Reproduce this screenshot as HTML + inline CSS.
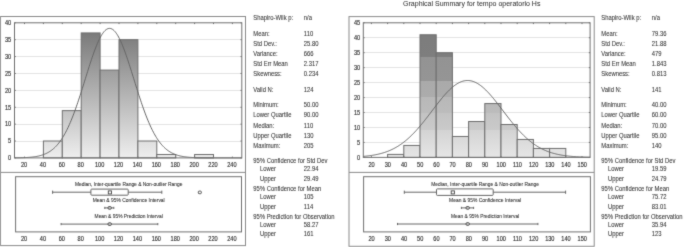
<!DOCTYPE html>
<html><head><meta charset="utf-8"><style>
html,body{margin:0;padding:0;background:#fff;}
body{width:685px;height:247px;overflow:hidden;font-family:"Liberation Sans",sans-serif;}
svg{display:block;will-change:transform;}
text{fill:#2a2a2a;stroke:#2a2a2a;stroke-width:0.22px;font-family:"Liberation Sans",sans-serif;}
text.ax{stroke-width:0.16px;fill:#303030;stroke:#303030;}
text.t{stroke-width:0.04px;fill:#333;stroke:#333;}
text.st{stroke-width:0.08px;fill:#383838;stroke:#383838;}
text.s{stroke-width:0.08px;fill:#333;stroke:#333;}
</style></head><body>
<svg width="685" height="247" viewBox="0 0 685 247">
<defs>
<filter id="bl" x="-5" y="-5" width="700" height="260" filterUnits="userSpaceOnUse" color-interpolation-filters="sRGB"><feConvolveMatrix order="3" kernelMatrix="0.02 0.08 0.02 0.08 0.60 0.08 0.02 0.08 0.02" edgeMode="duplicate"/></filter>
<linearGradient id="gl" gradientUnits="userSpaceOnUse" x1="0" y1="22" x2="0" y2="158">
<stop offset="0" stop-color="#707070"/><stop offset="1" stop-color="#eeeeee"/></linearGradient>
<linearGradient id="gr" gradientUnits="userSpaceOnUse" x1="0" y1="22.5" x2="0" y2="157.5">
<stop offset="0" stop-color="#7c7c7c"/><stop offset="0.2585" stop-color="#7e7e7e"/>
<stop offset="0.2585" stop-color="#939393"/><stop offset="0.4363" stop-color="#959595"/>
<stop offset="0.4363" stop-color="#aaaaaa"/><stop offset="0.554" stop-color="#acacac"/>
<stop offset="0.554" stop-color="#b8b8b8"/><stop offset="0.668" stop-color="#bcbcbc"/>
<stop offset="0.668" stop-color="#c3c3c3"/><stop offset="0.796" stop-color="#cacaca"/>
<stop offset="0.796" stop-color="#d3d3d3"/><stop offset="1" stop-color="#e6e6e6"/>
</linearGradient>
</defs>
<g filter="url(#bl)">
<rect x="0" y="0" width="685" height="247" fill="#fff"/>
<text class="t" x="403.1" y="5.8" font-size="7">Graphical Summary for tempo operatorio Hs</text>
<rect x="0.5" y="16.5" width="245" height="229.1" fill="none" stroke="#8a8a8a" stroke-width="1"/>
<line x1="0.5" y1="172.4" x2="245.5" y2="172.4" stroke="#8a8a8a" stroke-width="1"/>
<line x1="14.5" y1="141.5" x2="241.8" y2="141.5" stroke="#e4e4e4" stroke-width="1"/>
<line x1="14.5" y1="124.5" x2="241.8" y2="124.5" stroke="#e4e4e4" stroke-width="1"/>
<line x1="14.5" y1="107.5" x2="241.8" y2="107.5" stroke="#e4e4e4" stroke-width="1"/>
<line x1="14.5" y1="90.5" x2="241.8" y2="90.5" stroke="#e4e4e4" stroke-width="1"/>
<line x1="14.5" y1="73.5" x2="241.8" y2="73.5" stroke="#e4e4e4" stroke-width="1"/>
<line x1="14.5" y1="56.5" x2="241.8" y2="56.5" stroke="#e4e4e4" stroke-width="1"/>
<line x1="14.5" y1="39.5" x2="241.8" y2="39.5" stroke="#e4e4e4" stroke-width="1"/>
<rect x="43.4" y="141.01" width="18.9" height="16.89" fill="url(#gl)" stroke="#6e6e6e" stroke-width="1"/>
<rect x="62.3" y="110.62" width="18.9" height="47.28" fill="url(#gl)" stroke="#6e6e6e" stroke-width="1"/>
<rect x="81.2" y="32.93" width="18.9" height="124.97" fill="url(#gl)" stroke="#6e6e6e" stroke-width="1"/>
<rect x="100.1" y="70.09" width="18.9" height="87.81" fill="url(#gl)" stroke="#6e6e6e" stroke-width="1"/>
<rect x="119" y="39.69" width="18.9" height="118.21" fill="url(#gl)" stroke="#6e6e6e" stroke-width="1"/>
<rect x="137.9" y="141.01" width="18.9" height="16.89" fill="url(#gl)" stroke="#6e6e6e" stroke-width="1"/>
<rect x="156.8" y="154.52" width="18.9" height="3.38" fill="url(#gl)" stroke="#6e6e6e" stroke-width="1"/>
<rect x="194.6" y="154.52" width="18.9" height="3.38" fill="url(#gl)" stroke="#6e6e6e" stroke-width="1"/>
<polyline points="15.05,157.83 15.81,157.82 16.56,157.81 17.32,157.80 18.07,157.79 18.83,157.77 19.59,157.76 20.34,157.74 21.10,157.72 21.85,157.70 22.61,157.68 23.37,157.65 24.12,157.62 24.88,157.59 25.63,157.55 26.39,157.51 27.15,157.47 27.90,157.42 28.66,157.37 29.41,157.32 30.17,157.25 30.93,157.19 31.68,157.11 32.44,157.03 33.19,156.94 33.95,156.84 34.71,156.74 35.46,156.62 36.22,156.49 36.97,156.36 37.73,156.21 38.49,156.05 39.24,155.87 40.00,155.69 40.75,155.48 41.51,155.26 42.27,155.03 43.02,154.77 43.78,154.50 44.53,154.20 45.29,153.88 46.05,153.54 46.80,153.18 47.56,152.79 48.31,152.37 49.07,151.93 49.83,151.45 50.58,150.95 51.34,150.41 52.09,149.84 52.85,149.23 53.61,148.59 54.36,147.91 55.12,147.18 55.87,146.42 56.63,145.62 57.39,144.77 58.14,143.87 58.90,142.93 59.65,141.95 60.41,140.91 61.17,139.82 61.92,138.68 62.68,137.49 63.43,136.25 64.19,134.95 64.95,133.60 65.70,132.20 66.46,130.74 67.21,129.22 67.97,127.65 68.73,126.02 69.48,124.34 70.24,122.60 70.99,120.81 71.75,118.96 72.51,117.06 73.26,115.11 74.02,113.11 74.77,111.07 75.53,108.97 76.29,106.83 77.04,104.65 77.80,102.43 78.55,100.17 79.31,97.88 80.07,95.56 80.82,93.21 81.58,90.83 82.33,88.44 83.09,86.02 83.85,83.60 84.60,81.17 85.36,78.73 86.11,76.30 86.87,73.87 87.63,71.45 88.38,69.05 89.14,66.67 89.89,64.32 90.65,61.99 91.41,59.71 92.16,57.46 92.92,55.27 93.67,53.12 94.43,51.04 95.19,49.02 95.94,47.06 96.70,45.18 97.45,43.38 98.21,41.66 98.97,40.03 99.72,38.49 100.48,37.04 101.23,35.70 101.99,34.46 102.75,33.33 103.50,32.30 104.26,31.40 105.01,30.60 105.77,29.93 106.53,29.37 107.28,28.94 108.04,28.63 108.79,28.44 109.55,28.38 110.31,28.44 111.06,28.63 111.82,28.94 112.57,29.37 113.33,29.93 114.09,30.60 114.84,31.40 115.60,32.30 116.35,33.33 117.11,34.46 117.87,35.70 118.62,37.04 119.38,38.49 120.13,40.03 120.89,41.66 121.65,43.38 122.40,45.18 123.16,47.06 123.91,49.02 124.67,51.04 125.43,53.12 126.18,55.27 126.94,57.46 127.69,59.71 128.45,61.99 129.21,64.32 129.96,66.67 130.72,69.05 131.47,71.45 132.23,73.87 132.99,76.30 133.74,78.73 134.50,81.17 135.25,83.60 136.01,86.02 136.77,88.44 137.52,90.83 138.28,93.21 139.03,95.56 139.79,97.88 140.55,100.17 141.30,102.43 142.06,104.65 142.81,106.83 143.57,108.97 144.33,111.07 145.08,113.11 145.84,115.11 146.59,117.06 147.35,118.96 148.11,120.81 148.86,122.60 149.62,124.34 150.37,126.02 151.13,127.65 151.89,129.22 152.64,130.74 153.40,132.20 154.15,133.60 154.91,134.95 155.67,136.25 156.42,137.49 157.18,138.68 157.93,139.82 158.69,140.91 159.45,141.95 160.20,142.93 160.96,143.87 161.71,144.77 162.47,145.62 163.23,146.42 163.98,147.18 164.74,147.91 165.49,148.59 166.25,149.23 167.01,149.84 167.76,150.41 168.52,150.95 169.27,151.45 170.03,151.93 170.79,152.37 171.54,152.79 172.30,153.18 173.05,153.54 173.81,153.88 174.57,154.20 175.32,154.50 176.08,154.77 176.83,155.03 177.59,155.26 178.35,155.48 179.10,155.69 179.86,155.87 180.61,156.05 181.37,156.21 182.13,156.36 182.88,156.49 183.64,156.62 184.39,156.74 185.15,156.84 185.91,156.94 186.66,157.03 187.42,157.11 188.17,157.19 188.93,157.25 189.69,157.32 190.44,157.37 191.20,157.42 191.95,157.47 192.71,157.51 193.47,157.55 194.22,157.59 194.98,157.62 195.73,157.65 196.49,157.68 197.25,157.70 198.00,157.72 198.76,157.74 199.51,157.76 200.27,157.77 201.03,157.79 201.78,157.80 202.54,157.81 203.29,157.82 204.05,157.83 204.81,157.84 205.56,157.84 206.32,157.85 207.07,157.86 207.83,157.86 208.59,157.87 209.34,157.87 210.10,157.87 210.85,157.88 211.61,157.88 212.37,157.88 213.12,157.88 213.88,157.89 214.63,157.89 215.39,157.89 216.15,157.89 216.90,157.89 217.66,157.89 218.41,157.89 219.17,157.89 219.93,157.90 220.68,157.90 221.44,157.90 222.19,157.90 222.95,157.90 223.71,157.90 224.46,157.90 225.22,157.90 225.97,157.90 226.73,157.90 227.49,157.90 228.24,157.90 229.00,157.90 229.75,157.90 230.51,157.90 231.27,157.90 232.02,157.90 232.78,157.90 233.53,157.90 234.29,157.90 235.05,157.90 235.80,157.90 236.56,157.90 237.31,157.90 238.07,157.90 238.83,157.90 239.58,157.90 240.34,157.90 241.09,157.90 241.85,157.90" fill="none" stroke="#666" stroke-width="1"/>
<rect x="14.5" y="22.8" width="227.3" height="135.1" fill="none" stroke="#707070" stroke-width="1"/>
<line x1="24.5" y1="22.8" x2="24.5" y2="24.1" stroke="#707070" stroke-width="1"/>
<line x1="24.5" y1="157.9" x2="24.5" y2="156.6" stroke="#707070" stroke-width="1"/>
<line x1="43.4" y1="22.8" x2="43.4" y2="24.1" stroke="#707070" stroke-width="1"/>
<line x1="43.4" y1="157.9" x2="43.4" y2="156.6" stroke="#707070" stroke-width="1"/>
<line x1="62.3" y1="22.8" x2="62.3" y2="24.1" stroke="#707070" stroke-width="1"/>
<line x1="62.3" y1="157.9" x2="62.3" y2="156.6" stroke="#707070" stroke-width="1"/>
<line x1="81.2" y1="22.8" x2="81.2" y2="24.1" stroke="#707070" stroke-width="1"/>
<line x1="81.2" y1="157.9" x2="81.2" y2="156.6" stroke="#707070" stroke-width="1"/>
<line x1="100.1" y1="22.8" x2="100.1" y2="24.1" stroke="#707070" stroke-width="1"/>
<line x1="100.1" y1="157.9" x2="100.1" y2="156.6" stroke="#707070" stroke-width="1"/>
<line x1="119" y1="22.8" x2="119" y2="24.1" stroke="#707070" stroke-width="1"/>
<line x1="119" y1="157.9" x2="119" y2="156.6" stroke="#707070" stroke-width="1"/>
<line x1="137.9" y1="22.8" x2="137.9" y2="24.1" stroke="#707070" stroke-width="1"/>
<line x1="137.9" y1="157.9" x2="137.9" y2="156.6" stroke="#707070" stroke-width="1"/>
<line x1="156.8" y1="22.8" x2="156.8" y2="24.1" stroke="#707070" stroke-width="1"/>
<line x1="156.8" y1="157.9" x2="156.8" y2="156.6" stroke="#707070" stroke-width="1"/>
<line x1="175.7" y1="22.8" x2="175.7" y2="24.1" stroke="#707070" stroke-width="1"/>
<line x1="175.7" y1="157.9" x2="175.7" y2="156.6" stroke="#707070" stroke-width="1"/>
<line x1="194.6" y1="22.8" x2="194.6" y2="24.1" stroke="#707070" stroke-width="1"/>
<line x1="194.6" y1="157.9" x2="194.6" y2="156.6" stroke="#707070" stroke-width="1"/>
<line x1="213.5" y1="22.8" x2="213.5" y2="24.1" stroke="#707070" stroke-width="1"/>
<line x1="213.5" y1="157.9" x2="213.5" y2="156.6" stroke="#707070" stroke-width="1"/>
<line x1="232.4" y1="22.8" x2="232.4" y2="24.1" stroke="#707070" stroke-width="1"/>
<line x1="232.4" y1="157.9" x2="232.4" y2="156.6" stroke="#707070" stroke-width="1"/>
<line x1="14.5" y1="157.9" x2="15.8" y2="157.9" stroke="#707070" stroke-width="1"/>
<line x1="241.8" y1="157.9" x2="240.5" y2="157.9" stroke="#707070" stroke-width="1"/>
<line x1="14.5" y1="141.01" x2="15.8" y2="141.01" stroke="#707070" stroke-width="1"/>
<line x1="241.8" y1="141.01" x2="240.5" y2="141.01" stroke="#707070" stroke-width="1"/>
<line x1="14.5" y1="124.12" x2="15.8" y2="124.12" stroke="#707070" stroke-width="1"/>
<line x1="241.8" y1="124.12" x2="240.5" y2="124.12" stroke="#707070" stroke-width="1"/>
<line x1="14.5" y1="107.24" x2="15.8" y2="107.24" stroke="#707070" stroke-width="1"/>
<line x1="241.8" y1="107.24" x2="240.5" y2="107.24" stroke="#707070" stroke-width="1"/>
<line x1="14.5" y1="90.35" x2="15.8" y2="90.35" stroke="#707070" stroke-width="1"/>
<line x1="241.8" y1="90.35" x2="240.5" y2="90.35" stroke="#707070" stroke-width="1"/>
<line x1="14.5" y1="73.46" x2="15.8" y2="73.46" stroke="#707070" stroke-width="1"/>
<line x1="241.8" y1="73.46" x2="240.5" y2="73.46" stroke="#707070" stroke-width="1"/>
<line x1="14.5" y1="56.58" x2="15.8" y2="56.58" stroke="#707070" stroke-width="1"/>
<line x1="241.8" y1="56.58" x2="240.5" y2="56.58" stroke="#707070" stroke-width="1"/>
<line x1="14.5" y1="39.69" x2="15.8" y2="39.69" stroke="#707070" stroke-width="1"/>
<line x1="241.8" y1="39.69" x2="240.5" y2="39.69" stroke="#707070" stroke-width="1"/>
<line x1="14.5" y1="22.8" x2="15.8" y2="22.8" stroke="#707070" stroke-width="1"/>
<line x1="241.8" y1="22.8" x2="240.5" y2="22.8" stroke="#707070" stroke-width="1"/>
<text transform="translate(11.2 160.2) scale(0.79 1)" class="ax" text-anchor="end" font-size="7.1">0</text>
<text transform="translate(11.2 143.31) scale(0.79 1)" class="ax" text-anchor="end" font-size="7.1">5</text>
<text transform="translate(11.2 126.42) scale(0.79 1)" class="ax" text-anchor="end" font-size="7.1">10</text>
<text transform="translate(11.2 109.54) scale(0.79 1)" class="ax" text-anchor="end" font-size="7.1">15</text>
<text transform="translate(11.2 92.65) scale(0.79 1)" class="ax" text-anchor="end" font-size="7.1">20</text>
<text transform="translate(11.2 75.76) scale(0.79 1)" class="ax" text-anchor="end" font-size="7.1">25</text>
<text transform="translate(11.2 58.88) scale(0.79 1)" class="ax" text-anchor="end" font-size="7.1">30</text>
<text transform="translate(11.2 41.99) scale(0.79 1)" class="ax" text-anchor="end" font-size="7.1">35</text>
<text transform="translate(11.2 25.1) scale(0.79 1)" class="ax" text-anchor="end" font-size="7.1">40</text>
<text transform="translate(24 167) scale(0.79 1)" class="ax" text-anchor="middle" font-size="7.1">20</text>
<text transform="translate(24 240.5) scale(0.79 1)" class="ax" text-anchor="middle" font-size="7.1">20</text>
<text transform="translate(42.9 167) scale(0.79 1)" class="ax" text-anchor="middle" font-size="7.1">40</text>
<text transform="translate(42.9 240.5) scale(0.79 1)" class="ax" text-anchor="middle" font-size="7.1">40</text>
<text transform="translate(61.8 167) scale(0.79 1)" class="ax" text-anchor="middle" font-size="7.1">60</text>
<text transform="translate(61.8 240.5) scale(0.79 1)" class="ax" text-anchor="middle" font-size="7.1">60</text>
<text transform="translate(80.7 167) scale(0.79 1)" class="ax" text-anchor="middle" font-size="7.1">80</text>
<text transform="translate(80.7 240.5) scale(0.79 1)" class="ax" text-anchor="middle" font-size="7.1">80</text>
<text transform="translate(99.6 167) scale(0.79 1)" class="ax" text-anchor="middle" font-size="7.1">100</text>
<text transform="translate(99.6 240.5) scale(0.79 1)" class="ax" text-anchor="middle" font-size="7.1">100</text>
<text transform="translate(118.5 167) scale(0.79 1)" class="ax" text-anchor="middle" font-size="7.1">120</text>
<text transform="translate(118.5 240.5) scale(0.79 1)" class="ax" text-anchor="middle" font-size="7.1">120</text>
<text transform="translate(137.4 167) scale(0.79 1)" class="ax" text-anchor="middle" font-size="7.1">140</text>
<text transform="translate(137.4 240.5) scale(0.79 1)" class="ax" text-anchor="middle" font-size="7.1">140</text>
<text transform="translate(156.3 167) scale(0.79 1)" class="ax" text-anchor="middle" font-size="7.1">160</text>
<text transform="translate(156.3 240.5) scale(0.79 1)" class="ax" text-anchor="middle" font-size="7.1">160</text>
<text transform="translate(175.2 167) scale(0.79 1)" class="ax" text-anchor="middle" font-size="7.1">180</text>
<text transform="translate(175.2 240.5) scale(0.79 1)" class="ax" text-anchor="middle" font-size="7.1">180</text>
<text transform="translate(194.1 167) scale(0.79 1)" class="ax" text-anchor="middle" font-size="7.1">200</text>
<text transform="translate(194.1 240.5) scale(0.79 1)" class="ax" text-anchor="middle" font-size="7.1">200</text>
<text transform="translate(213 167) scale(0.79 1)" class="ax" text-anchor="middle" font-size="7.1">220</text>
<text transform="translate(213 240.5) scale(0.79 1)" class="ax" text-anchor="middle" font-size="7.1">220</text>
<text transform="translate(231.9 167) scale(0.79 1)" class="ax" text-anchor="middle" font-size="7.1">240</text>
<text transform="translate(231.9 240.5) scale(0.79 1)" class="ax" text-anchor="middle" font-size="7.1">240</text>
<rect x="15.6" y="176.7" width="225.9" height="55.2" fill="none" stroke="#707070" stroke-width="1"/>
<text class="s" x="74.9" y="186" textLength="107.6" lengthAdjust="spacingAndGlyphs" font-size="5">Median, Inter-quartile Range &amp; Non-outlier Range</text>
<text class="s" x="92.7" y="202" textLength="72.0" lengthAdjust="spacingAndGlyphs" font-size="5">Mean &amp; 95% Confidence Interval</text>
<text class="s" x="94.6" y="217.8" textLength="68.2" lengthAdjust="spacingAndGlyphs" font-size="5">Mean &amp; 95% Prediction Interval</text>
<line x1="52.6" y1="192.2" x2="161.8" y2="192.2" stroke="#666" stroke-width="1"/>
<line x1="52.6" y1="190.6" x2="52.6" y2="193.79999999999998" stroke="#666" stroke-width="1"/>
<line x1="161.8" y1="190.6" x2="161.8" y2="193.79999999999998" stroke="#666" stroke-width="1"/>
<rect x="90.9" y="189.1" width="37.3" height="6.1" rx="0.8" fill="#fff" stroke="#666" stroke-width="1"/>
<rect x="108.3" y="190.9" width="3.2" height="3" fill="#fff" stroke="#444" stroke-width="0.9"/>
<rect x="198.3" y="191.1" width="3" height="2.6" rx="0.8" fill="#fff" stroke="#444" stroke-width="0.9"/>
<line x1="104.8" y1="207.9" x2="113.8" y2="207.9" stroke="#666" stroke-width="1"/>
<line x1="104.8" y1="206.8" x2="104.8" y2="209.0" stroke="#666" stroke-width="1"/>
<line x1="113.8" y1="206.8" x2="113.8" y2="209.0" stroke="#666" stroke-width="1"/>
<rect x="108" y="206.6" width="3.4" height="2.6" rx="1" fill="#ccc" stroke="#444" stroke-width="0.9"/>
<line x1="61.1" y1="224.1" x2="157.8" y2="224.1" stroke="#666" stroke-width="1"/>
<line x1="61.1" y1="223.0" x2="61.1" y2="225.2" stroke="#666" stroke-width="1"/>
<line x1="157.8" y1="223.0" x2="157.8" y2="225.2" stroke="#666" stroke-width="1"/>
<rect x="108" y="222.8" width="3.4" height="2.6" rx="1" fill="#ccc" stroke="#444" stroke-width="0.9"/>
<text class="st" transform="translate(253.3 20.1) scale(0.84 1)" font-size="7">Shapiro-Wilk p:</text>
<text class="st" transform="translate(303.8 20.1) scale(0.84 1)" font-size="7">n/a</text>
<text class="st" transform="translate(253.3 35.8) scale(0.84 1)" font-size="7">Mean:</text>
<text class="st" transform="translate(303.8 35.8) scale(0.84 1)" font-size="7">110</text>
<text class="st" transform="translate(253.3 45.9) scale(0.84 1)" font-size="7">Std Dev.:</text>
<text class="st" transform="translate(303.8 45.9) scale(0.84 1)" font-size="7">25.80</text>
<text class="st" transform="translate(253.3 55.9) scale(0.84 1)" font-size="7">Variance:</text>
<text class="st" transform="translate(303.8 55.9) scale(0.84 1)" font-size="7">666</text>
<text class="st" transform="translate(253.3 66.1) scale(0.84 1)" font-size="7">Std Err Mean</text>
<text class="st" transform="translate(303.8 66.1) scale(0.84 1)" font-size="7">2.317</text>
<text class="st" transform="translate(253.3 76.2) scale(0.84 1)" font-size="7">Skewness:</text>
<text class="st" transform="translate(303.8 76.2) scale(0.84 1)" font-size="7">0.234</text>
<text class="st" transform="translate(253.3 91.6) scale(0.84 1)" font-size="7">Valid N:</text>
<text class="st" transform="translate(303.8 91.6) scale(0.84 1)" font-size="7">124</text>
<text class="st" transform="translate(253.3 106.8) scale(0.84 1)" font-size="7">Minimum:</text>
<text class="st" transform="translate(303.8 106.8) scale(0.84 1)" font-size="7">50.00</text>
<text class="st" transform="translate(253.3 117.2) scale(0.84 1)" font-size="7">Lower Quartile</text>
<text class="st" transform="translate(303.8 117.2) scale(0.84 1)" font-size="7">90.00</text>
<text class="st" transform="translate(253.3 127.6) scale(0.84 1)" font-size="7">Median:</text>
<text class="st" transform="translate(303.8 127.6) scale(0.84 1)" font-size="7">110</text>
<text class="st" transform="translate(253.3 137.7) scale(0.84 1)" font-size="7">Upper Quartile</text>
<text class="st" transform="translate(303.8 137.7) scale(0.84 1)" font-size="7">130</text>
<text class="st" transform="translate(253.3 147.6) scale(0.84 1)" font-size="7">Maximum:</text>
<text class="st" transform="translate(303.8 147.6) scale(0.84 1)" font-size="7">205</text>
<text class="st" transform="translate(253.3 162.8) scale(0.84 1)" font-size="7">95% Confidence for Std Dev</text>
<text class="st" transform="translate(259.9 170.9) scale(0.84 1)" font-size="7">Lower</text>
<text class="st" transform="translate(303.8 170.9) scale(0.84 1)" font-size="7">22.94</text>
<text class="st" transform="translate(259.9 181) scale(0.84 1)" font-size="7">Upper</text>
<text class="st" transform="translate(303.8 181) scale(0.84 1)" font-size="7">29.49</text>
<text class="st" transform="translate(253.3 190.9) scale(0.84 1)" font-size="7">95% Confidence for Mean</text>
<text class="st" transform="translate(259.9 199.2) scale(0.84 1)" font-size="7">Lower</text>
<text class="st" transform="translate(303.8 199.2) scale(0.84 1)" font-size="7">105</text>
<text class="st" transform="translate(259.9 209.3) scale(0.84 1)" font-size="7">Upper</text>
<text class="st" transform="translate(303.8 209.3) scale(0.84 1)" font-size="7">114</text>
<text class="st" transform="translate(253.3 218.7) scale(0.84 1)" font-size="7">95% Prediction for Observation</text>
<text class="st" transform="translate(259.9 227) scale(0.84 1)" font-size="7">Lower</text>
<text class="st" transform="translate(303.8 227) scale(0.84 1)" font-size="7">58.27</text>
<text class="st" transform="translate(259.9 236.1) scale(0.84 1)" font-size="7">Upper</text>
<text class="st" transform="translate(303.8 236.1) scale(0.84 1)" font-size="7">161</text>
<rect x="349.0" y="16.6" width="245.2" height="229.7" fill="none" stroke="#8a8a8a" stroke-width="1"/>
<line x1="349.0" y1="172.4" x2="594.2" y2="172.4" stroke="#8a8a8a" stroke-width="1"/>
<line x1="363.3" y1="142.5" x2="590.1" y2="142.5" stroke="#e4e4e4" stroke-width="1"/>
<line x1="363.3" y1="127.5" x2="590.1" y2="127.5" stroke="#e4e4e4" stroke-width="1"/>
<line x1="363.3" y1="112.5" x2="590.1" y2="112.5" stroke="#e4e4e4" stroke-width="1"/>
<line x1="363.3" y1="97.5" x2="590.1" y2="97.5" stroke="#e4e4e4" stroke-width="1"/>
<line x1="363.3" y1="82.5" x2="590.1" y2="82.5" stroke="#e4e4e4" stroke-width="1"/>
<line x1="363.3" y1="67.5" x2="590.1" y2="67.5" stroke="#e4e4e4" stroke-width="1"/>
<line x1="363.3" y1="52.5" x2="590.1" y2="52.5" stroke="#e4e4e4" stroke-width="1"/>
<line x1="363.3" y1="37.5" x2="590.1" y2="37.5" stroke="#e4e4e4" stroke-width="1"/>
<rect x="387.6" y="154.41" width="16.2" height="2.99" fill="url(#gr)" stroke="#6e6e6e" stroke-width="1"/>
<rect x="403.8" y="145.44" width="16.2" height="11.96" fill="url(#gr)" stroke="#6e6e6e" stroke-width="1"/>
<rect x="420" y="34.76" width="16.2" height="122.64" fill="url(#gr)" stroke="#6e6e6e" stroke-width="1"/>
<rect x="436.2" y="52.71" width="16.2" height="104.69" fill="url(#gr)" stroke="#6e6e6e" stroke-width="1"/>
<rect x="452.4" y="136.46" width="16.2" height="20.94" fill="url(#gr)" stroke="#6e6e6e" stroke-width="1"/>
<rect x="468.6" y="121.51" width="16.2" height="35.89" fill="url(#gr)" stroke="#6e6e6e" stroke-width="1"/>
<rect x="484.8" y="103.56" width="16.2" height="53.84" fill="url(#gr)" stroke="#6e6e6e" stroke-width="1"/>
<rect x="501" y="124.5" width="16.2" height="32.9" fill="url(#gr)" stroke="#6e6e6e" stroke-width="1"/>
<rect x="517.2" y="139.45" width="16.2" height="17.95" fill="url(#gr)" stroke="#6e6e6e" stroke-width="1"/>
<rect x="533.4" y="148.43" width="16.2" height="8.97" fill="url(#gr)" stroke="#6e6e6e" stroke-width="1"/>
<rect x="549.6" y="148.43" width="16.2" height="8.97" fill="url(#gr)" stroke="#6e6e6e" stroke-width="1"/>
<polyline points="363.30,156.38 364.06,156.32 364.81,156.25 365.57,156.18 366.32,156.10 367.08,156.02 367.84,155.93 368.59,155.84 369.35,155.75 370.10,155.64 370.86,155.54 371.62,155.43 372.37,155.31 373.13,155.19 373.88,155.06 374.64,154.93 375.40,154.78 376.15,154.63 376.91,154.48 377.66,154.32 378.42,154.15 379.18,153.97 379.93,153.78 380.69,153.59 381.44,153.38 382.20,153.17 382.96,152.95 383.71,152.71 384.47,152.47 385.22,152.22 385.98,151.96 386.74,151.69 387.49,151.40 388.25,151.11 389.00,150.80 389.76,150.49 390.52,150.16 391.27,149.81 392.03,149.46 392.78,149.09 393.54,148.71 394.30,148.32 395.05,147.91 395.81,147.49 396.56,147.06 397.32,146.61 398.08,146.14 398.83,145.67 399.59,145.17 400.34,144.67 401.10,144.14 401.86,143.61 402.61,143.05 403.37,142.48 404.12,141.90 404.88,141.30 405.64,140.69 406.39,140.05 407.15,139.41 407.90,138.75 408.66,138.07 409.42,137.38 410.17,136.67 410.93,135.94 411.68,135.21 412.44,134.45 413.20,133.68 413.95,132.90 414.71,132.10 415.46,131.29 416.22,130.47 416.98,129.63 417.73,128.78 418.49,127.91 419.24,127.03 420.00,126.15 420.76,125.24 421.51,124.33 422.27,123.41 423.02,122.48 423.78,121.54 424.54,120.59 425.29,119.64 426.05,118.67 426.80,117.70 427.56,116.72 428.32,115.74 429.07,114.76 429.83,113.77 430.58,112.78 431.34,111.78 432.10,110.79 432.85,109.79 433.61,108.80 434.36,107.81 435.12,106.82 435.88,105.83 436.63,104.85 437.39,103.88 438.14,102.91 438.90,101.95 439.66,101.00 440.41,100.05 441.17,99.12 441.92,98.20 442.68,97.30 443.44,96.40 444.19,95.53 444.95,94.66 445.70,93.82 446.46,92.99 447.22,92.18 447.97,91.39 448.73,90.63 449.48,89.88 450.24,89.16 451.00,88.46 451.75,87.78 452.51,87.13 453.26,86.51 454.02,85.92 454.78,85.35 455.53,84.81 456.29,84.30 457.04,83.81 457.80,83.36 458.56,82.95 459.31,82.56 460.07,82.20 460.82,81.88 461.58,81.59 462.34,81.33 463.09,81.11 463.85,80.92 464.60,80.77 465.36,80.65 466.12,80.57 466.87,80.52 467.63,80.50 468.38,80.52 469.14,80.58 469.90,80.67 470.65,80.79 471.41,80.95 472.16,81.15 472.92,81.38 473.68,81.64 474.43,81.93 475.19,82.26 475.94,82.62 476.70,83.01 477.46,83.44 478.21,83.90 478.97,84.38 479.72,84.90 480.48,85.44 481.24,86.02 481.99,86.62 482.75,87.24 483.50,87.90 484.26,88.58 485.02,89.28 485.77,90.01 486.53,90.76 487.28,91.53 488.04,92.32 488.80,93.13 489.55,93.96 490.31,94.81 491.06,95.68 491.82,96.56 492.58,97.45 493.33,98.36 494.09,99.28 494.84,100.21 495.60,101.16 496.36,102.11 497.11,103.07 497.87,104.04 498.62,105.02 499.38,106.00 500.14,106.99 500.89,107.98 501.65,108.97 502.40,109.96 503.16,110.96 503.92,111.95 504.67,112.95 505.43,113.94 506.18,114.93 506.94,115.91 507.70,116.89 508.45,117.87 509.21,118.84 509.96,119.80 510.72,120.76 511.48,121.70 512.23,122.64 512.99,123.57 513.74,124.49 514.50,125.40 515.26,126.30 516.01,127.18 516.77,128.06 517.52,128.92 518.28,129.77 519.04,130.61 519.79,131.43 520.55,132.24 521.30,133.04 522.06,133.82 522.82,134.58 523.57,135.33 524.33,136.07 525.08,136.79 525.84,137.50 526.60,138.19 527.35,138.86 528.11,139.52 528.86,140.16 529.62,140.79 530.38,141.40 531.13,142.00 531.89,142.58 532.64,143.15 533.40,143.70 534.16,144.23 534.91,144.75 535.67,145.26 536.42,145.75 537.18,146.22 537.94,146.69 538.69,147.13 539.45,147.56 540.20,147.98 540.96,148.39 541.72,148.78 542.47,149.16 543.23,149.52 543.98,149.87 544.74,150.21 545.50,150.54 546.25,150.86 547.01,151.16 547.76,151.45 548.52,151.74 549.28,152.01 550.03,152.27 550.79,152.52 551.54,152.76 552.30,152.99 553.06,153.21 553.81,153.42 554.57,153.62 555.32,153.81 556.08,154.00 556.84,154.18 557.59,154.34 558.35,154.51 559.10,154.66 559.86,154.81 560.62,154.95 561.37,155.08 562.13,155.21 562.88,155.33 563.64,155.45 564.40,155.56 565.15,155.66 565.91,155.76 566.66,155.86 567.42,155.95 568.18,156.03 568.93,156.11 569.69,156.19 570.44,156.26 571.20,156.33 571.96,156.39 572.71,156.46 573.47,156.51 574.22,156.57 574.98,156.62 575.74,156.67 576.49,156.72 577.25,156.76 578.00,156.80 578.76,156.84 579.52,156.88 580.27,156.91 581.03,156.94 581.78,156.97 582.54,157.00 583.30,157.03 584.05,157.05 584.81,157.08 585.56,157.10 586.32,157.12 587.08,157.14 587.83,157.16 588.59,157.17 589.34,157.19 590.10,157.20" fill="none" stroke="#666" stroke-width="1"/>
<rect x="363.3" y="22.8" width="226.8" height="134.6" fill="none" stroke="#707070" stroke-width="1"/>
<line x1="371.4" y1="22.8" x2="371.4" y2="24.1" stroke="#707070" stroke-width="1"/>
<line x1="371.4" y1="157.4" x2="371.4" y2="156.1" stroke="#707070" stroke-width="1"/>
<line x1="387.6" y1="22.8" x2="387.6" y2="24.1" stroke="#707070" stroke-width="1"/>
<line x1="387.6" y1="157.4" x2="387.6" y2="156.1" stroke="#707070" stroke-width="1"/>
<line x1="403.8" y1="22.8" x2="403.8" y2="24.1" stroke="#707070" stroke-width="1"/>
<line x1="403.8" y1="157.4" x2="403.8" y2="156.1" stroke="#707070" stroke-width="1"/>
<line x1="420" y1="22.8" x2="420" y2="24.1" stroke="#707070" stroke-width="1"/>
<line x1="420" y1="157.4" x2="420" y2="156.1" stroke="#707070" stroke-width="1"/>
<line x1="436.2" y1="22.8" x2="436.2" y2="24.1" stroke="#707070" stroke-width="1"/>
<line x1="436.2" y1="157.4" x2="436.2" y2="156.1" stroke="#707070" stroke-width="1"/>
<line x1="452.4" y1="22.8" x2="452.4" y2="24.1" stroke="#707070" stroke-width="1"/>
<line x1="452.4" y1="157.4" x2="452.4" y2="156.1" stroke="#707070" stroke-width="1"/>
<line x1="468.6" y1="22.8" x2="468.6" y2="24.1" stroke="#707070" stroke-width="1"/>
<line x1="468.6" y1="157.4" x2="468.6" y2="156.1" stroke="#707070" stroke-width="1"/>
<line x1="484.8" y1="22.8" x2="484.8" y2="24.1" stroke="#707070" stroke-width="1"/>
<line x1="484.8" y1="157.4" x2="484.8" y2="156.1" stroke="#707070" stroke-width="1"/>
<line x1="501" y1="22.8" x2="501" y2="24.1" stroke="#707070" stroke-width="1"/>
<line x1="501" y1="157.4" x2="501" y2="156.1" stroke="#707070" stroke-width="1"/>
<line x1="517.2" y1="22.8" x2="517.2" y2="24.1" stroke="#707070" stroke-width="1"/>
<line x1="517.2" y1="157.4" x2="517.2" y2="156.1" stroke="#707070" stroke-width="1"/>
<line x1="533.4" y1="22.8" x2="533.4" y2="24.1" stroke="#707070" stroke-width="1"/>
<line x1="533.4" y1="157.4" x2="533.4" y2="156.1" stroke="#707070" stroke-width="1"/>
<line x1="549.6" y1="22.8" x2="549.6" y2="24.1" stroke="#707070" stroke-width="1"/>
<line x1="549.6" y1="157.4" x2="549.6" y2="156.1" stroke="#707070" stroke-width="1"/>
<line x1="565.8" y1="22.8" x2="565.8" y2="24.1" stroke="#707070" stroke-width="1"/>
<line x1="565.8" y1="157.4" x2="565.8" y2="156.1" stroke="#707070" stroke-width="1"/>
<line x1="582" y1="22.8" x2="582" y2="24.1" stroke="#707070" stroke-width="1"/>
<line x1="582" y1="157.4" x2="582" y2="156.1" stroke="#707070" stroke-width="1"/>
<line x1="363.3" y1="157.4" x2="364.6" y2="157.4" stroke="#707070" stroke-width="1"/>
<line x1="590.1" y1="157.4" x2="588.8000000000001" y2="157.4" stroke="#707070" stroke-width="1"/>
<line x1="363.3" y1="142.44" x2="364.6" y2="142.44" stroke="#707070" stroke-width="1"/>
<line x1="590.1" y1="142.44" x2="588.8000000000001" y2="142.44" stroke="#707070" stroke-width="1"/>
<line x1="363.3" y1="127.49" x2="364.6" y2="127.49" stroke="#707070" stroke-width="1"/>
<line x1="590.1" y1="127.49" x2="588.8000000000001" y2="127.49" stroke="#707070" stroke-width="1"/>
<line x1="363.3" y1="112.53" x2="364.6" y2="112.53" stroke="#707070" stroke-width="1"/>
<line x1="590.1" y1="112.53" x2="588.8000000000001" y2="112.53" stroke="#707070" stroke-width="1"/>
<line x1="363.3" y1="97.58" x2="364.6" y2="97.58" stroke="#707070" stroke-width="1"/>
<line x1="590.1" y1="97.58" x2="588.8000000000001" y2="97.58" stroke="#707070" stroke-width="1"/>
<line x1="363.3" y1="82.62" x2="364.6" y2="82.62" stroke="#707070" stroke-width="1"/>
<line x1="590.1" y1="82.62" x2="588.8000000000001" y2="82.62" stroke="#707070" stroke-width="1"/>
<line x1="363.3" y1="67.67" x2="364.6" y2="67.67" stroke="#707070" stroke-width="1"/>
<line x1="590.1" y1="67.67" x2="588.8000000000001" y2="67.67" stroke="#707070" stroke-width="1"/>
<line x1="363.3" y1="52.71" x2="364.6" y2="52.71" stroke="#707070" stroke-width="1"/>
<line x1="590.1" y1="52.71" x2="588.8000000000001" y2="52.71" stroke="#707070" stroke-width="1"/>
<line x1="363.3" y1="37.76" x2="364.6" y2="37.76" stroke="#707070" stroke-width="1"/>
<line x1="590.1" y1="37.76" x2="588.8000000000001" y2="37.76" stroke="#707070" stroke-width="1"/>
<line x1="363.3" y1="22.8" x2="364.6" y2="22.8" stroke="#707070" stroke-width="1"/>
<line x1="590.1" y1="22.8" x2="588.8000000000001" y2="22.8" stroke="#707070" stroke-width="1"/>
<text transform="translate(360.1 159.7) scale(0.79 1)" class="ax" text-anchor="end" font-size="7.1">0</text>
<text transform="translate(360.1 144.74) scale(0.79 1)" class="ax" text-anchor="end" font-size="7.1">5</text>
<text transform="translate(360.1 129.79) scale(0.79 1)" class="ax" text-anchor="end" font-size="7.1">10</text>
<text transform="translate(360.1 114.83) scale(0.79 1)" class="ax" text-anchor="end" font-size="7.1">15</text>
<text transform="translate(360.1 99.88) scale(0.79 1)" class="ax" text-anchor="end" font-size="7.1">20</text>
<text transform="translate(360.1 84.92) scale(0.79 1)" class="ax" text-anchor="end" font-size="7.1">25</text>
<text transform="translate(360.1 69.97) scale(0.79 1)" class="ax" text-anchor="end" font-size="7.1">30</text>
<text transform="translate(360.1 55.01) scale(0.79 1)" class="ax" text-anchor="end" font-size="7.1">35</text>
<text transform="translate(360.1 40.06) scale(0.79 1)" class="ax" text-anchor="end" font-size="7.1">40</text>
<text transform="translate(360.1 25.1) scale(0.79 1)" class="ax" text-anchor="end" font-size="7.1">45</text>
<text transform="translate(371.6 167) scale(0.79 1)" class="ax" text-anchor="middle" font-size="7.1">20</text>
<text transform="translate(371.6 240.5) scale(0.79 1)" class="ax" text-anchor="middle" font-size="7.1">20</text>
<text transform="translate(387.8 167) scale(0.79 1)" class="ax" text-anchor="middle" font-size="7.1">30</text>
<text transform="translate(387.8 240.5) scale(0.79 1)" class="ax" text-anchor="middle" font-size="7.1">30</text>
<text transform="translate(404 167) scale(0.79 1)" class="ax" text-anchor="middle" font-size="7.1">40</text>
<text transform="translate(404 240.5) scale(0.79 1)" class="ax" text-anchor="middle" font-size="7.1">40</text>
<text transform="translate(420.2 167) scale(0.79 1)" class="ax" text-anchor="middle" font-size="7.1">50</text>
<text transform="translate(420.2 240.5) scale(0.79 1)" class="ax" text-anchor="middle" font-size="7.1">50</text>
<text transform="translate(436.4 167) scale(0.79 1)" class="ax" text-anchor="middle" font-size="7.1">60</text>
<text transform="translate(436.4 240.5) scale(0.79 1)" class="ax" text-anchor="middle" font-size="7.1">60</text>
<text transform="translate(452.6 167) scale(0.79 1)" class="ax" text-anchor="middle" font-size="7.1">70</text>
<text transform="translate(452.6 240.5) scale(0.79 1)" class="ax" text-anchor="middle" font-size="7.1">70</text>
<text transform="translate(468.8 167) scale(0.79 1)" class="ax" text-anchor="middle" font-size="7.1">80</text>
<text transform="translate(468.8 240.5) scale(0.79 1)" class="ax" text-anchor="middle" font-size="7.1">80</text>
<text transform="translate(485 167) scale(0.79 1)" class="ax" text-anchor="middle" font-size="7.1">90</text>
<text transform="translate(485 240.5) scale(0.79 1)" class="ax" text-anchor="middle" font-size="7.1">90</text>
<text transform="translate(501.2 167) scale(0.79 1)" class="ax" text-anchor="middle" font-size="7.1">100</text>
<text transform="translate(501.2 240.5) scale(0.79 1)" class="ax" text-anchor="middle" font-size="7.1">100</text>
<text transform="translate(517.4 167) scale(0.79 1)" class="ax" text-anchor="middle" font-size="7.1">110</text>
<text transform="translate(517.4 240.5) scale(0.79 1)" class="ax" text-anchor="middle" font-size="7.1">110</text>
<text transform="translate(533.6 167) scale(0.79 1)" class="ax" text-anchor="middle" font-size="7.1">120</text>
<text transform="translate(533.6 240.5) scale(0.79 1)" class="ax" text-anchor="middle" font-size="7.1">120</text>
<text transform="translate(549.8 167) scale(0.79 1)" class="ax" text-anchor="middle" font-size="7.1">130</text>
<text transform="translate(549.8 240.5) scale(0.79 1)" class="ax" text-anchor="middle" font-size="7.1">130</text>
<text transform="translate(566 167) scale(0.79 1)" class="ax" text-anchor="middle" font-size="7.1">140</text>
<text transform="translate(566 240.5) scale(0.79 1)" class="ax" text-anchor="middle" font-size="7.1">140</text>
<text transform="translate(582.2 167) scale(0.79 1)" class="ax" text-anchor="middle" font-size="7.1">150</text>
<text transform="translate(582.2 240.5) scale(0.79 1)" class="ax" text-anchor="middle" font-size="7.1">150</text>
<rect x="363.6" y="176.7" width="226.8" height="55.2" fill="none" stroke="#707070" stroke-width="1"/>
<text class="s" x="431.3" y="186" textLength="107.6" lengthAdjust="spacingAndGlyphs" font-size="5">Median, Inter-quartile Range &amp; Non-outlier Range</text>
<text class="s" x="449.1" y="202" textLength="72.0" lengthAdjust="spacingAndGlyphs" font-size="5">Mean &amp; 95% Confidence Interval</text>
<text class="s" x="451" y="217.8" textLength="68.2" lengthAdjust="spacingAndGlyphs" font-size="5">Mean &amp; 95% Prediction Interval</text>
<line x1="404.3" y1="192.2" x2="565.6" y2="192.2" stroke="#666" stroke-width="1"/>
<line x1="404.3" y1="190.6" x2="404.3" y2="193.79999999999998" stroke="#666" stroke-width="1"/>
<line x1="565.6" y1="190.6" x2="565.6" y2="193.79999999999998" stroke="#666" stroke-width="1"/>
<rect x="436.5" y="188.9" width="56.7" height="6.5" rx="0.8" fill="#fff" stroke="#666" stroke-width="1"/>
<rect x="451.2" y="190.9" width="3.2" height="3" fill="#fff" stroke="#444" stroke-width="0.9"/>
<line x1="461.4" y1="207.9" x2="473.6" y2="207.9" stroke="#666" stroke-width="1"/>
<line x1="461.4" y1="206.8" x2="461.4" y2="209.0" stroke="#666" stroke-width="1"/>
<line x1="473.6" y1="206.8" x2="473.6" y2="209.0" stroke="#666" stroke-width="1"/>
<rect x="466" y="206.6" width="3.4" height="2.6" rx="1" fill="#ccc" stroke="#444" stroke-width="0.9"/>
<line x1="397.5" y1="224.0" x2="537.9" y2="224.0" stroke="#666" stroke-width="1"/>
<line x1="397.5" y1="222.9" x2="397.5" y2="225.1" stroke="#666" stroke-width="1"/>
<line x1="537.9" y1="222.9" x2="537.9" y2="225.1" stroke="#666" stroke-width="1"/>
<rect x="466" y="222.7" width="3.4" height="2.6" rx="1" fill="#ccc" stroke="#444" stroke-width="0.9"/>
<text class="st" transform="translate(601.3 20.1) scale(0.84 1)" font-size="7">Shapiro-Wilk p:</text>
<text class="st" transform="translate(651.8 20.1) scale(0.84 1)" font-size="7">n/a</text>
<text class="st" transform="translate(601.3 35.8) scale(0.84 1)" font-size="7">Mean:</text>
<text class="st" transform="translate(651.8 35.8) scale(0.84 1)" font-size="7">79.36</text>
<text class="st" transform="translate(601.3 45.9) scale(0.84 1)" font-size="7">Std Dev.:</text>
<text class="st" transform="translate(651.8 45.9) scale(0.84 1)" font-size="7">21.88</text>
<text class="st" transform="translate(601.3 55.9) scale(0.84 1)" font-size="7">Variance:</text>
<text class="st" transform="translate(651.8 55.9) scale(0.84 1)" font-size="7">479</text>
<text class="st" transform="translate(601.3 66.1) scale(0.84 1)" font-size="7">Std Err Mean</text>
<text class="st" transform="translate(651.8 66.1) scale(0.84 1)" font-size="7">1.843</text>
<text class="st" transform="translate(601.3 76.2) scale(0.84 1)" font-size="7">Skewness:</text>
<text class="st" transform="translate(651.8 76.2) scale(0.84 1)" font-size="7">0.813</text>
<text class="st" transform="translate(601.3 91.6) scale(0.84 1)" font-size="7">Valid N:</text>
<text class="st" transform="translate(651.8 91.6) scale(0.84 1)" font-size="7">141</text>
<text class="st" transform="translate(601.3 106.8) scale(0.84 1)" font-size="7">Minimum:</text>
<text class="st" transform="translate(651.8 106.8) scale(0.84 1)" font-size="7">40.00</text>
<text class="st" transform="translate(601.3 117.2) scale(0.84 1)" font-size="7">Lower Quartile</text>
<text class="st" transform="translate(651.8 117.2) scale(0.84 1)" font-size="7">60.00</text>
<text class="st" transform="translate(601.3 127.6) scale(0.84 1)" font-size="7">Median:</text>
<text class="st" transform="translate(651.8 127.6) scale(0.84 1)" font-size="7">70.00</text>
<text class="st" transform="translate(601.3 137.7) scale(0.84 1)" font-size="7">Upper Quartile</text>
<text class="st" transform="translate(651.8 137.7) scale(0.84 1)" font-size="7">95.00</text>
<text class="st" transform="translate(601.3 147.6) scale(0.84 1)" font-size="7">Maximum:</text>
<text class="st" transform="translate(651.8 147.6) scale(0.84 1)" font-size="7">140</text>
<text class="st" transform="translate(601.3 162.8) scale(0.84 1)" font-size="7">95% Confidence for Std Dev</text>
<text class="st" transform="translate(607.9 170.9) scale(0.84 1)" font-size="7">Lower</text>
<text class="st" transform="translate(651.8 170.9) scale(0.84 1)" font-size="7">19.59</text>
<text class="st" transform="translate(607.9 181) scale(0.84 1)" font-size="7">Upper</text>
<text class="st" transform="translate(651.8 181) scale(0.84 1)" font-size="7">24.79</text>
<text class="st" transform="translate(601.3 190.9) scale(0.84 1)" font-size="7">95% Confidence for Mean</text>
<text class="st" transform="translate(607.9 199.2) scale(0.84 1)" font-size="7">Lower</text>
<text class="st" transform="translate(651.8 199.2) scale(0.84 1)" font-size="7">75.72</text>
<text class="st" transform="translate(607.9 209.3) scale(0.84 1)" font-size="7">Upper</text>
<text class="st" transform="translate(651.8 209.3) scale(0.84 1)" font-size="7">83.01</text>
<text class="st" transform="translate(601.3 218.7) scale(0.84 1)" font-size="7">95% Prediction for Observation</text>
<text class="st" transform="translate(607.9 227) scale(0.84 1)" font-size="7">Lower</text>
<text class="st" transform="translate(651.8 227) scale(0.84 1)" font-size="7">35.94</text>
<text class="st" transform="translate(607.9 236.1) scale(0.84 1)" font-size="7">Upper</text>
<text class="st" transform="translate(651.8 236.1) scale(0.84 1)" font-size="7">123</text>
</g>
</svg>
</body></html>
